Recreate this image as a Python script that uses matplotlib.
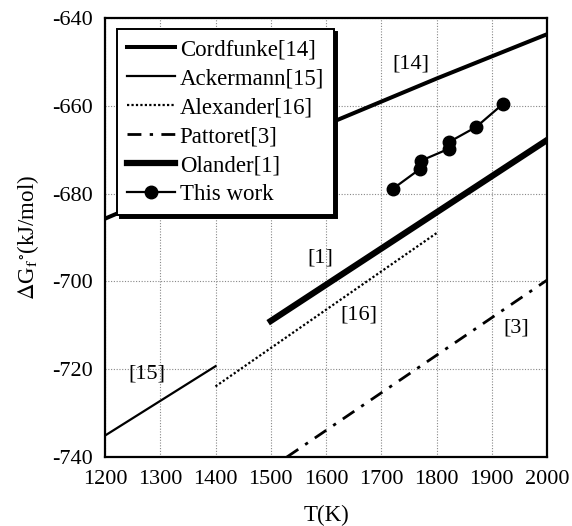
import numpy as np
import matplotlib
matplotlib.use('Agg')
import matplotlib.pyplot as plt

plt.rcParams['font.family'] = ['Liberation Serif', 'DejaVu Serif']
plt.rcParams['mathtext.fontset'] = 'stix'
plt.rcParams['axes.unicode_minus'] = False

# Data (T in K, dG in kJ/mol)
cord_T = [1200, 1400, 1600, 1800, 2000]
cord_G = [-685.7, -675.0, -664.3, -653.8, -643.7]

acker_T = [1200, 1400]
acker_G = [-735.1, -719.3]

alex_T = [1400, 1800]
alex_G = [-723.9, -689.0]

patt_T = [1529, 2000]
patt_G = [-740.0, -699.7]

olan_T = [1500, 2000]
olan_G = [-709.0, -667.8]

work_T = [1721, 1771, 1772, 1822, 1822, 1872, 1921]
work_G = [-678.9, -674.3, -672.5, -669.8, -668.3, -664.8, -659.5]

# text labels near the curves
tag_text = ['[14]', '[15]', '[16]', '[3]', '[1]']
tag_T = [1753, 1275, 1660, 1945, 1590]
tag_G = [-650.4, -721.0, -707.7, -710.7, -694.6]

fig = plt.figure(figsize=(5.72, 5.26), dpi=100)
ax = fig.add_axes([0.1836, 0.131, 0.7727, 0.8348])

ax.plot(cord_T, cord_G, color='black', lw=2.9, label='Cordfunke[14]')
ax.plot(acker_T, acker_G, color='black', lw=1.6, label='Ackermann[15]')
ax.plot(alex_T, alex_G, color='black', lw=1.6, linestyle=(0, (1, 1)), label='Alexander[16]')
ax.plot(patt_T, patt_G, color='black', lw=2.0, linestyle=(0, (5, 3, 1.2, 3)), label='Pattoret[3]')
ax.plot(olan_T, olan_G, color='black', lw=4.5, label='Olander[1]')
ax.plot(work_T, work_G, color='black', lw=1.6, marker='o', markersize=9, label='This work')

for t, x, y in zip(tag_text, tag_T, tag_G):
    ax.text(x, y, t, fontsize=16, ha='center', va='center')

ax.set_xlim(1200, 2000)
ax.set_ylim(-740, -640)
ax.set_xticks(np.arange(1200, 2001, 100))
ax.set_yticks(np.arange(-740, -639, 20))
ax.tick_params(length=0, labelsize=16)
ax.tick_params(axis='x', pad=9)
ax.tick_params(axis='y', pad=8.5)
ax.grid(True, color='#888888', linestyle=(0, (1, 1.5)), linewidth=0.8)
for s in ax.spines.values():
    s.set_linewidth(1.6)

ax.set_xlabel('T(K)', fontsize=16.5, labelpad=12)
ax.set_ylabel(r'$\Delta$G$_\mathrm{f}$$^{\circ}$(kJ/mol)', fontsize=16.5, labelpad=8)

leg = ax.legend(loc='upper left', bbox_to_anchor=(0.028, 0.974), fontsize=16.5,
                frameon=True, fancybox=False, shadow={'color': 'black', 'alpha': 1},
                handlelength=2.1, handletextpad=0.2, labelspacing=0.35,
                borderpad=0.42, borderaxespad=0)
leg.get_frame().set_edgecolor('black')
leg.get_frame().set_linewidth(1.4)
leg.get_frame().set_alpha(1)

fig.savefig('out.png', dpi=100)
